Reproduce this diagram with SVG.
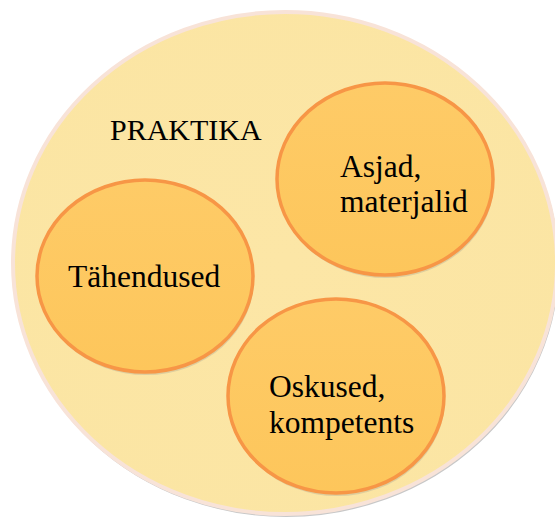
<svg xmlns="http://www.w3.org/2000/svg" width="555" height="518" viewBox="0 0 555 518">
<defs>
<radialGradient id="outerFill" cx="50%" cy="50%" r="60%">
<stop offset="0" stop-color="#FCE6A6"/>
<stop offset="1" stop-color="#FBE5A3"/>
</radialGradient>
<linearGradient id="innerFill" x1="0" y1="0" x2="0" y2="1">
<stop offset="0" stop-color="#FECB67"/>
<stop offset="1" stop-color="#FDC65B"/>
</linearGradient>
</defs>
<style>
.outer{fill:url(#outerFill);stroke:#F8E3D8;stroke-width:4}
.outerShadow{fill:none;stroke:#C8C8C8;stroke-width:2}
.node{fill:url(#innerFill);stroke:#F79646;stroke-width:3.5}
.shadow{fill:#C9BE9A;opacity:0.6}
text{font-family:"Liberation Serif","Times New Roman",serif;fill:#000}
.lbl{font-size:31.5px}
.title{font-size:30px}
</style>
<g id="praktika">
<ellipse class="outerShadow" cx="286" cy="265" rx="272" ry="251"/>
<ellipse class="outer" cx="285" cy="263" rx="272" ry="251"/>
<text class="title" x="110" y="140">PRAKTIKA</text>
</g>
<g id="asjad">
<ellipse class="shadow" cx="386" cy="182" rx="108" ry="96"/>
<ellipse class="node" cx="385" cy="179" rx="108" ry="96"/>
<text class="lbl" x="340" y="177">Asjad,</text>
<text class="lbl" x="340" y="212">materjalid</text>
</g>
<g id="tahendused">
<ellipse class="shadow" cx="146" cy="279" rx="108" ry="96"/>
<ellipse class="node" cx="145" cy="276" rx="108" ry="96"/>
<text class="lbl" x="68" y="287">Tähendused</text>
</g>
<g id="oskused">
<ellipse class="shadow" cx="337" cy="399" rx="108" ry="97"/>
<ellipse class="node" cx="336" cy="396" rx="108" ry="97"/>
<text class="lbl" x="269" y="397">Oskused,</text>
<text class="lbl" x="269" y="433">kompetents</text>
</g>
<g id="connectors"/>
</svg>
